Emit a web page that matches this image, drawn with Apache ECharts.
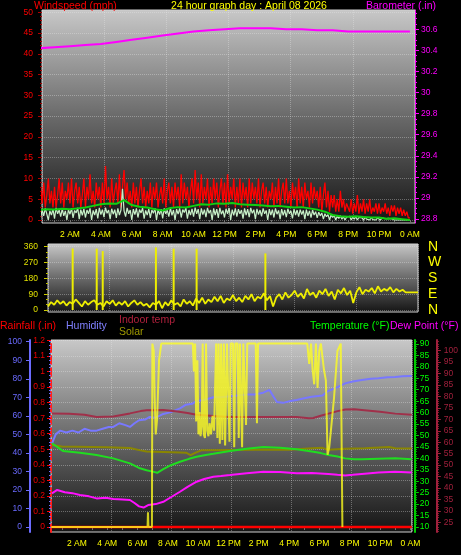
<!DOCTYPE html>
<html><head><meta charset="utf-8">
<script src="https://cdn.jsdelivr.net/npm/echarts@6/dist/echarts.min.js"></script>
<style>html,body{margin:0;padding:0;background:#000;}#c{width:461px;height:555px;}</style>
</head><body><div id="c"></div>
<script>
// ---------- DATA ----------
const hourTicks = [2,4,6,8,10,12,14,16,18,20,22,24];
const windTicks = [0,5,10,15,20,25,30,35,40,45,50];
const baroTicks = [28.8,29,29.2,29.4,29.6,29.8,30,30.2,30.4,30.6];
const dirTicks = [0,90,180,270,360];
const compassLabels = {0:'N',90:'E',180:'S',270:'W',360:'N'};
const rainTicks = [0,0.1,0.2,0.3,0.4,0.5,0.6,0.7,0.8,0.9,1,1.1,1.2];
const humTicks = [0,10,20,30,40,50,60,70,80,90,100];
const tempTicks = [10,15,20,25,30,35,40,45,50,55,60,65,70,75,80,85,90];
const indoorTicks = [25,30,35,40,45,50,55,60,65,70,75,80,85,90,95,100,105];

// top panel: samples every 0.1 h
const windGust = [
 3,8,4,9,3,6,10,4,7,3, 8,3,6,10,4,9,3,7,5,9, 4,10,3,7,9,4,8,3,6,10, 3,8,5,11,4,7,3,9,5,8,
 3,9,4,13,5,8,3,10,4,7, 9,4,11,3,8,12,5,9,4,7, 3,9,4,8,3,7,10,4,8,3, 7,4,9,3,8,5,9,3,6,8,
 4,10,3,7,9,4,8,3,9,5, 8,3,11,4,9,5,8,3,7,10, 4,12,5,9,3,11,4,8,5,10, 3,8,4,10,5,9,3,7,10,4,
 9,3,11,4,8,5,10,3,8,4, 10,3,9,5,8,3,10,4,9,5, 8,4,10,3,7,9,4,8,3,7, 5,9,3,8,4,10,3,7,9,4,
 10,4,7,3,9,5,8,3,10,4, 8,3,9,5,7,3,9,4,8,5, 7,3,8,2,6,9,3,7,2,6, 3,6,2,5,2,7,3,5,2,4,
 4,2,5,1.5,4,2,6,1.5,4,2, 5,1.5,4,2,5,1.5,3,2,4,1.5, 4,1.5,3,2,4,1.5,3,1,3.5,2, 3.5,1,3,1.5,3,1,2.5,1,2,0.5, 0.5];
const windSpeed = [
 2,0.5,2.5,1,2.8,1.5,0,2.2,1.2,2.6, 0.3,2.9,1.5,2.4,0.8,2.7,1,2.2,0,2.5, 1.4,2.8,0.5,2.3,1.7,2.9,0.2,2.5,1.1,2.7,
 0.6,2.4,1.5,2.8,0,2.3,1.2,2.6,0.4,2.9, 1.3,2.5,0.7,3,1.6,2.4,0.2,2.7,1.4,2.5, 0.5,2.8,1.2,2.4,7.5,2.2,0.8,2.9,1.5,2.4,
 0,2.6,1.3,2.8,0.6,2.5,1.7,2.9,0.3,2.3, 1.2,2.7,0.5,2.4,1.6,2.8,0,2.5,1.3,2.6, 0.4,2.8,1.5,2.3,0.8,2.9,1.1,2.4,0,2.6,
 1.4,2.8,0.6,2.5,1.8,2.9,0.3,2.4,1.2,2.7, 0.8,3,1.5,2.6,0.2,2.8,1.3,2.5,0.7,2.9, 1.6,2.4,0,2.8,1.2,2.6,0.5,2.9,1.4,2.3,
 0.6,2.7,1.5,2.9,0,2.5,1.1,2.8,0.8,2.6, 1.5,2.4,0.3,2.8,1.2,2.6,0.7,2.9,1.6,2.5, 0.2,2.7,1.3,2.4,0.9,2.8,1.5,2.3,0,2.6,
 1.2,2.5,0.6,2.8,1.4,2.3,0.2,2.6,1.1,2.4, 0.7,2.7,1.5,2.2,0.4,2.6,1.2,2.4,0.8,2.5, 1.3,2.3,0.2,2.5,1,2.2,0.6,2.4,1.2,2,
 0.5,1.9,1,1.7,0.2,1.5,0.8,1.3,0,1.2, 0.6,1.1,0,0.9,0.4,1,0.2,0.8,0,0.7, 0.3,0.9,0,0.7,0.2,0.8,0,0.6,0.3,0.5,
 0,0.7,0.2,0.5,0,0.6,0.1,0.4,0,0.5, 0.2,0,0.5,0.1,0.3,0,0.4,0,0.3,0.1, 0,0.3,0,0.2,0,0.3,0,0.1,0,0.1, 0];
// every 0.5 h
const windAvg = [2.4,2.6,2.5,2.7,2.6,2.8,3.0,3.4,3.8,4.0,3.9,4.8,3.6,3.2,3.0,2.6,2.3,2.9,3.1,3.0,
 3.4,3.8,3.7,4.0,3.9,4.1,3.8,3.7,3.6,3.5,3.3,3.4,3.2,3.0,3.1,2.8,2.5,2.0,1.2,0.9,
 0.8,0.9,0.7,0.6,0.6,0.3,0.4,0.2,0];
// hourly
const barometer = [30.42,30.43,30.44,30.45,30.46,30.48,30.50,30.52,30.54,30.56,30.58,30.59,30.60,
 30.61,30.61,30.61,30.60,30.60,30.59,30.59,30.58,30.58,30.58,30.58,30.58];

// middle panel: every 0.2 h
const windDir = [
 20,45,30,55,35, 50,25,45,35,60, 40,20,50,30,45, 55,30,40,20,50, 35,55,25,45,30,
 50,20,40,55,30, 45,25,35,15,40, 30,50,10,45,25, 55,30,40,20,60, 35,50,25,65,40,
 70,35,60,45,75, 50,80,40,65,55, 85,50,70,45,80, 60,90,50,75,65, 95,55,80,20,70,
 90,60,100,70,85, 110,75,95,65,120, 85,100,70,110,90, 120,80,105,60,115, 95,125,85,110,40,
 100,130,90,115,105, 125,95,135,105,120, 110,130,100,120,105, 115,100,100,100,100, 100];
const dirSpikeTimes = [1.6,3.16,3.55,7.0,8.15,9.64,14.1];
const dirSpikeValues = [350,349,335,356,349,349,322];

// bottom panel
const humTimes = [0.35,0.6,0.9,1.3,1.7,2.1,2.5,2.9,3.3,3.7,4.1,4.4,4.8,5.2,5.5,5.8,6.1,6.5,6.8,7.2,7.7,8.2,8.8,9.2,9.6,9.9,10.4,11,11.5,12.1,12.6,13.2,13.7,14.3,14.7,15.0,15.2,15.6,16.1,16.5,17,17.5,18.2,18.6,19.2,19.7,20.2,20.8,21.4,21.9,22.5,23,23.5,24,24.1];
const humValues = [45,50,52,51,52,51,53,52,52,53,54,54,56,55,54,56,57.6,58,59.4,59,61,62,64,66,66.5,68,68.5,70,70,70.5,71,71.5,71.5,72.5,74,70,67.5,67,68,68.5,69.5,70.3,71,73.5,75.5,77.5,78.5,79.3,80,80.3,80.8,81,81.3,81.5,81.5];
const tempTimes = [0.35,1.1,2.2,3.3,4.4,5.5,6.1,6.6,7.0,7.3,7.7,8.2,8.8,9.4,9.9,10.5,11,11.6,12.1,13.2,14.3,15.4,16.5,17.5,18.1,18.6,19.2,19.7,20.3,20.8,21.9,23,24.1];
const tempValues = [46.6,43.2,42.5,41.5,40,37.8,35.8,34.8,34.2,33.7,35.3,37,38.5,39.8,40.7,41.5,42,42.7,43.2,44.2,45,44.6,44,43,42.3,41.5,40.8,40,39.6,39.6,39.8,40,39.6];
const dewTimes = [0.35,0.7,1.2,1.7,2.2,2.8,3.3,3.9,4.4,5.0,5.5,5.8,6.1,6.4,6.7,7.2,7.7,8.2,8.8,9.3,9.9,10.4,11,11.5,12.1,13.2,14.3,15.4,16.5,17.5,18.6,19.2,19.7,20.2,20.8,21.9,23,24.1];
const dewValues = [24.7,26.2,25.2,24.8,24,23.4,22.5,22.8,22.2,22,21.8,20.5,19,18.5,19.6,20,21,23,25.4,27.5,29.8,31,32,32.3,32.7,33.5,34.2,34,33.5,33.6,33.2,32.8,32.5,32.8,33.2,33.8,34.2,33.8];
const indoorTimes = [0.35,1.5,2.5,3.3,4.4,5.5,6.2,6.6,7.7,8.5,9.3,9.9,11,12,13,14,15,16.5,17.3,17.6,18.2,18.6,19.2,19.7,20.3,20.8,22,23,24.1];
const indoorValues = [72.5,72.4,72,71,71.2,72.6,73.6,74,74.1,73.5,72.8,72,71.5,71,71,71,71,71,70.5,70.6,71.8,72.5,73.6,74.3,74.4,74.1,73.3,72.5,72];
const oliveTimes = [0.35,1,2,3,4,5.5,6.2,6.6,7.7,8.8,9.2,9.5,9.8,10.2,12,14,16,17.5,18.2,18.6,19.7,21,22.6,23,24.1];
const oliveValues = [45.8,45.2,45.1,45,44.9,44.5,43.5,43,42.8,42.6,42.5,41.4,42.4,43.5,43.7,43.8,43.8,44.4,44.6,43.8,44.2,44.4,45,44.4,44.3];
const rainTimes = [0.29,24.1];
const rainValues = [0,0];
const solarTimes = [0.3,6.66,6.69,6.72,6.95,6.98,7.07,7.13,7.2,7.29,7.42,7.57,
 9.65,9.72,9.8,9.87,9.95,10.02,10.09,10.16,10.24,10.3,10.37,10.45,10.52,10.6,10.68,10.75,10.85,10.95,11.05,11.19,
 11.27,11.35,11.43,11.52,11.6,11.7,11.78,11.9,12.07,12.15,12.3,12.38,12.46,12.6,12.68,12.76,12.9,12.98,13.16,13.24,
 13.8,13.88,13.95,
 17.2,17.33,17.45,17.55,17.66,17.77,17.88,17.99,18.1,18.3,18.43,18.54,18.65,18.76,18.97,19.19,19.41,19.52];
const solarValues = [0,0,8,0,0,99,95,70,50,58,90,99,
 99,84,99,57,90,50,62,49,55,99,50,48,99,52,49,56,50,60,52,99,
 48,99,45,99,47,99,44,99,46,99,99,43,99,99,48,99,43,99,55,99,
 99,56,99,
 99,88,99,85,77,99,75,95,99,85,79,39,43,52,70,95,99,0];

// ---------- HELPERS ----------
function pairs(t, v){ return v.map((y,i)=>[t[i], y]); }
function regular(v, dt){ return v.map((y,i)=>[Math.round(i*dt*100)/100, y]); }
function hourLabel(h){ h = Math.round(h)%24; if(h===0) return '0 AM'; if(h<12) return h+' AM'; if(h===12) return '12 PM'; return (h-12)+' PM'; }
function steps(a,b,s){ const r=[]; for(let v=a; v<=b+1e-9; v+=s) r.push(Math.round(v*1000)/1000); return r; }
const FONT = '"Liberation Sans", Arial, sans-serif';
const FS = 8.5;
const bg = {type:'linear',x:0,y:0,x2:0,y2:1,colorStops:[{offset:0,color:'#c8c8c8'},{offset:0.5,color:'#6a6a6a'},{offset:1,color:'#141414'}]};
const gridLine = {show:true, lineStyle:{type:'dotted', color:'rgba(235,235,235,0.35)', width:1}};

const grids = [
 {left:42, top:10, width:373, height:213},
 {left:48, top:244, width:370, height:68},
 {left:51, top:340, width:362, height:192}
].map(g=>Object.assign({show:true, backgroundColor:bg, borderColor:'#d0d0d0', borderWidth:1}, g));

const hourAxisCommon = {type:'value', axisLine:{show:false}, splitLine:{show:false}};
const xAxis = [
 Object.assign({}, hourAxisCommon, {gridIndex:0, min:0.19, max:24.33,
   axisTick:{show:true, customValues:steps(1,24,1), length:3, lineStyle:{color:'#707070'}},
   axisLabel:{customValues:hourTicks, formatter:hourLabel, color:'#ffff00', fontSize:FS, fontFamily:FONT, margin:7}}),
 {gridIndex:0, type:'value', min:0, max:6, interval:1, axisLine:{show:false}, axisTick:{show:false}, axisLabel:{show:false}, splitLine:gridLine},
 Object.assign({}, hourAxisCommon, {gridIndex:1, min:0, max:24, axisTick:{show:false}, axisLabel:{show:false}}),
 {gridIndex:1, type:'value', min:0, max:6, interval:1, axisLine:{show:false}, axisTick:{show:false}, axisLabel:{show:false}, splitLine:gridLine},
 Object.assign({}, hourAxisCommon, {gridIndex:2, min:0.29, max:24.1,
   axisTick:{show:true, customValues:steps(1,24,1), length:3, lineStyle:{color:'#707070'}},
   axisLabel:{customValues:hourTicks, formatter:hourLabel, color:'#ffff00', fontSize:FS, fontFamily:FONT, margin:7}}),
 {gridIndex:2, type:'value', min:0, max:6, interval:1, axisLine:{show:false}, axisTick:{show:false}, axisLabel:{show:false}, splitLine:gridLine}
];

const yAxis = [];
function addAxis(o){ yAxis.push(Object.assign({type:'value', splitLine:{show:false}}, o)); return yAxis.length-1; }
function majorAxis(gi, pos, off, min, max, ticks, color, labelColor, margin, lineStyle, fmt, split){
  return addAxis({gridIndex:gi, position:pos, offset:off, min:min, max:max,
    axisLine: lineStyle ? {show:true, onZero:false, lineStyle:lineStyle} : {show:false},
    axisTick:{show:true, customValues:ticks, length:4, lineStyle:{color:color, width:1}},
    axisLabel:{customValues:ticks, color:labelColor, fontSize:FS, fontFamily:FONT, margin:margin, formatter: fmt || (v=>String(Math.round(v*100)/100))},
    splitLine: split ? gridLine : {show:false}});
}
function minorAxis(gi, pos, off, min, max, ticks, color){
  return addAxis({gridIndex:gi, position:pos, offset:off, min:min, max:max, axisLine:{show:false},
    axisTick:{show:true, customValues:ticks, length:2, lineStyle:{color:color, width:1}}, axisLabel:{show:false}});
}

const yWind = majorAxis(0,'left',0,-0.72,50.53,windTicks,'#b00000','#ff0000',9,null,null,true);
minorAxis(0,'left',0,-0.72,50.53,steps(0,50,1),'#a00000');
const yBaro = majorAxis(0,'right',0,28.762,30.783,baroTicks,'#ff00ff','#ff00ff',6,{color:'#ff00ff',type:'dotted',width:1});
minorAxis(0,'right',0,28.762,30.783,steps(28.8,30.75,0.05),'#ff00ff');

const yDir = majorAxis(1,'left',0,-11.4,375.4,dirTicks,'#d0d000','#e0e000',10,null,null,true);
minorAxis(1,'left',0,-11.4,375.4,steps(0,360,30),'#c0c000');
const yCompass = addAxis({gridIndex:1, position:'right', min:-11.4, max:375.4, axisLine:{show:false}, axisTick:{show:false},
  axisLabel:{customValues:dirTicks, formatter:v=>compassLabels[Math.round(v)], color:'#ffff00', fontSize:14, fontFamily:FONT, margin:10}});

const yRain = majorAxis(2,'left',0,-0.032,1.2026,rainTicks,'#ff0000','#ee0000',6,{color:'#ff2020',type:'dashed',width:2}, null, true);
const yHum = majorAxis(2,'left',21,-2.7,100.92,humTicks,'#6c6cff','#6a6aff',8,{color:'#6c6cff',width:2});
minorAxis(2,'left',21,-2.7,100.92,steps(0,100,2),'#6c6cff');
const yTemp = majorAxis(2,'right',3,7.81,91.75,tempTicks,'#00d000','#00ff00',5,{color:'#00d000',width:2});
minorAxis(2,'right',3,7.81,91.75,steps(10,91,1),'#00c000');
const yIndoor = majorAxis(2,'right',25,20.76,104.68,indoorTicks,'#a0203c','#a0203c',7,{color:'#a0203c',width:2});
minorAxis(2,'right',25,20.76,104.68,steps(21,104,1),'#a0203c');

function line(name, xi, yi, data, color, width, z){
  return {name:name, type:'line', xAxisIndex:xi, yAxisIndex:yi, data:data, showSymbol:false, symbol:'none',
    lineStyle:{color:color, width:width}, itemStyle:{color:color}, z:z||2, silent:true, animation:false};
}

const series = [
  line('Barometer',0,yBaro,regular(barometer,1),'#ff00ff',2),
  line('Wind gust',0,yWind,regular(windGust,0.1),'#ff0000',1.3),
  line('Wind speed',0,yWind,regular(windSpeed,0.1),'#c8f0c8',1.2,3),
  line('Wind average',0,yWind,regular(windAvg,0.5),'#10d010',2,4),
  line('Wind direction',2,yDir,regular(windDir,0.2),'#eeee00',1.8),
  {name:'Direction spikes', type:'bar', xAxisIndex:2, yAxisIndex:yDir, data:pairs(dirSpikeTimes,dirSpikeValues), barWidth:2,
    itemStyle:{color:'#eeee00'}, silent:true, animation:false},
  line('Humidity',4,yHum,pairs(humTimes,humValues),'#7878ff',2),
  line('Indoor temp',4,yIndoor,pairs(indoorTimes,indoorValues),'#a0304a',2),
  line('Solar',4,yTemp,pairs(oliveTimes,oliveValues),'#8a8600',2),
  line('Temperature',4,yTemp,pairs(tempTimes,tempValues),'#20dd20',2),
  line('Dew Point',4,yTemp,pairs(dewTimes,dewValues),'#ff10ff',2),
  line('Rainfall',4,yRain,pairs(rainTimes,rainValues),'#ff0000',2.5),
  line('Sun',4,yHum,pairs(solarTimes,solarValues),'rgba(255,255,30,0.78)',2,5)
];

function txt(x,y,s,color,align){
  return {type:'text', x:x, y:y, silent:true, style:{text:s, fill:color, font:'10.5px '+FONT, align:align||'left', verticalAlign:'middle', textAlign:align||'left', textVerticalAlign:'middle'}};
}
const graphic = [
  txt(34,6,'Windspeed (mph)','#ff0000'),
  txt(249,6,'24 hour graph day : April 08 2026','#ffff00','center'),
  txt(436,6,'Barometer (.in)','#ff00ff','right'),
  txt(0,326,'Rainfall (.in)','#ff0000'),
  txt(66,326,'Humidity','#8080ff'),
  txt(119,320,'Indoor temp','#b0203c'),
  txt(119,332,'Solar','#a09a00'),
  txt(310,326,'Temperature (°F)','#00ff00'),
  txt(390,326,'Dew Point (°F)','#ff00ff')
];

const chart = echarts.init(document.getElementById('c'), null, {renderer:'canvas'});
chart.setOption({backgroundColor:'#000', animation:false, grid:grids, xAxis:xAxis, yAxis:yAxis, series:series, graphic:graphic});
</script></body></html>
